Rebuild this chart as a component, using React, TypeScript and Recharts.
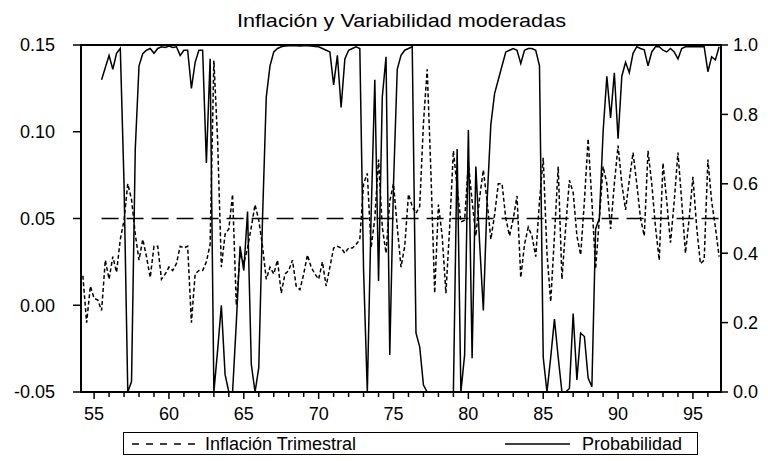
import { LineChart, Line, XAxis, YAxis, ReferenceArea, ReferenceLine } from "recharts";

const FONT = '"Liberation Sans", Arial, Helvetica, sans-serif';

// quarterly sample, first observation 1954Q2 (x axis in two-digit years)
const FIRST_QUARTER = 54.25;

const inflacion = [
  0.017, -0.01, 0.011, 0.004, 0.003, -0.003, 0.026, 0.015, 0.028, 0.019,
  0.038, 0.049, 0.07, 0.061, 0.041, 0.026, 0.038, 0.028, 0.016, 0.034,
  0.034, 0.015, 0.018, 0.022, 0.02, 0.024, 0.034, 0.033, 0.034, -0.01,
  0.018, 0.02, 0.02, 0.025, 0.035, 0.141, 0.095, 0.022, 0.041, 0.044,
  0.064, 0.0, 0.03, 0.024, 0.033, 0.045, 0.058, 0.049, 0.034, 0.015,
  0.022, 0.018, 0.026, 0.007, 0.018, 0.02, 0.026, 0.011, 0.009, 0.018,
  0.029, 0.022, 0.018, 0.015, 0.025, 0.011, 0.022, 0.033, 0.034, 0.033,
  0.03, 0.033, 0.033, 0.035, 0.038, 0.07, 0.076, 0.033, 0.05, 0.084,
  0.045, 0.03, 0.06, 0.07, 0.045, 0.022, 0.034, 0.064, 0.057, 0.053,
  0.057, 0.105, 0.136, 0.076, 0.007, 0.058, 0.04, 0.007, 0.045, 0.089,
  0.068, 0.048, 0.049, 0.082, 0.06, 0.04, 0.062, 0.078, 0.06, 0.038,
  0.052, 0.07, 0.07, 0.05, 0.04, 0.05, 0.063, 0.016, 0.035, 0.045,
  0.04, 0.028, 0.06, 0.085, 0.03, 0.002, 0.04, 0.08, 0.015, 0.045,
  0.072, 0.065, 0.04, 0.029, 0.06, 0.096, 0.06, 0.021, 0.05, 0.08,
  0.07, 0.044, 0.07, 0.092, 0.07, 0.055, 0.072, 0.088, 0.07, 0.05,
  0.04, 0.089, 0.07, 0.045, 0.026, 0.082, 0.06, 0.036, 0.06, 0.088,
  0.06, 0.03, 0.05, 0.074, 0.045, 0.024, 0.026, 0.084, 0.06, 0.045,
  0.028,
];

const probabilidad = [
  null, null, null, null, null, 0.9, 0.935, 0.97, 0.93, 0.976,
  0.99, 0.6, 0.0, 0.03, 0.7, 0.94, 0.975, 0.985, 0.99, 0.976,
  0.99, 0.995, 0.993, 0.997, 0.993, 0.995, 0.97, 0.985, 0.985, 0.875,
  0.95, 0.985, 0.985, 0.66, 0.96, 0.0, 0.12, 0.25, 0.05, 0.0,
  0.0, 0.2, 0.42, 0.35, 0.52, 0.08, 0.0, 0.07, 0.5, 0.85,
  0.94, 0.98, 0.99, 0.995, 0.997, 0.998, 0.998, 0.998, 0.997, 0.998,
  0.998, 0.997, 0.996, 0.995, 0.99, 0.985, 0.98, 0.885, 0.97, 0.82,
  0.96, 0.985, 0.99, 0.995, 0.99, 0.35, 0.0, 0.5, 0.9, 0.32,
  0.85, 0.966, 0.107, 0.6, 0.93, 0.97, 0.985, 0.99, 0.995, 0.17,
  0.13, 0.02, 0.0, 0.0, 0.0, 0.0, 0.0, 0.0, 0.0, 0.0,
  0.7, 0.0, 0.107, 0.755, 0.097, 0.65, 0.43, 0.235, 0.55, 0.77,
  0.86, 0.9, 0.94, 0.98, 0.985, 0.99, 0.985, 0.947, 0.985, 0.99,
  0.99, 0.985, 0.94, 0.1, 0.0, 0.1, 0.21, 0.1, 0.0, 0.0,
  0.01, 0.226, 0.035, 0.17, 0.16, 0.04, 0.015, 0.47, 0.5, 0.75,
  0.91, 0.79, 0.92, 0.73, 0.91, 0.95, 0.92, 0.976, 0.995, 0.99,
  0.986, 0.94, 0.98, 0.995, 0.995, 0.985, 0.98, 0.99, 0.98, 0.96,
  0.99, 0.995, 0.995, 0.995, 0.995, 0.995, 0.995, 0.923, 0.966, 0.957,
  0.995,
];

const yearTicks = [
  55, 56, 57, 58, 59, 60, 61, 62, 63, 64, 65, 66, 67, 68, 69, 70, 71, 72, 73, 74, 75,
  76, 77, 78, 79, 80, 81, 82, 83, 84, 85, 86, 87, 88, 89, 90, 91, 92, 93, 94, 95, 96,
];
const leftTicks = [-0.05, 0, 0.05, 0.1, 0.15];
const rightTicks = [0, 0.2, 0.4, 0.6, 0.8, 1];
const UMBRAL = 0.5;

const data = inflacion.map((v, i) => ({
  t: FIRST_QUARTER + i * 0.25,
  inflacion: v,
  probabilidad: probabilidad[i],
}));

const X_DOMAIN: [number, number] = [54.125, 96.875];

function YearTick({ x, y, payload }: any) {
  const v = payload.value as number;
  const major = v % 5 === 0;
  return (
    <g>
      <line x1={x} x2={x} y1={y} y2={y + (major ? 7 : 5)} stroke="#000" strokeWidth={1.5} />
      {major && (
        <text x={x} y={y + 28} textAnchor="middle" fontSize={18} fontFamily={FONT} fill="#000">
          {v}
        </text>
      )}
    </g>
  );
}

export default function App() {
  return (
    <div style={{ position: "absolute", left: 0, top: 0, width: 768, height: 461, background: "#fff" }}>
      <LineChart
        width={768}
        height={461}
        data={data}
        margin={{ top: 45, right: 0, bottom: 39, left: 0 }}
      >
        <XAxis
          dataKey="t"
          type="number"
          domain={X_DOMAIN}
          allowDataOverflow
          ticks={yearTicks}
          interval={0}
          tick={<YearTick />}
          tickLine={false}
          tickSize={0}
          tickMargin={0}
          height={30}
          axisLine={{ stroke: "#000", strokeWidth: 2 }}
        />
        <YAxis
          yAxisId="left"
          domain={[-0.05, 0.15]}
          allowDataOverflow
          ticks={leftTicks}
          interval={0}
          width={81}
          tickSize={8}
          tickMargin={18}
          tickFormatter={(v: number) => v.toFixed(2)}
          tick={{ fontSize: 18, fill: "#000", fontFamily: FONT }}
          tickLine={{ stroke: "#000", strokeWidth: 1.5 }}
          axisLine={{ stroke: "#000", strokeWidth: 2 }}
        />
        <YAxis
          yAxisId="right"
          orientation="right"
          domain={[0, 1]}
          allowDataOverflow
          ticks={rightTicks}
          interval={0}
          width={47}
          tickSize={7}
          tickMargin={5}
          tickFormatter={(v: number) => v.toFixed(1)}
          tick={{ fontSize: 18, fill: "#000", fontFamily: FONT, textAnchor: "start" }}
          tickLine={{ stroke: "#000", strokeWidth: 1.5 }}
          axisLine={{ stroke: "#000", strokeWidth: 2 }}
        />
        <ReferenceArea
          yAxisId="left"
          x1={X_DOMAIN[0]}
          x2={X_DOMAIN[1]}
          y1={-0.05}
          y2={0.15}
          fill="none"
          stroke="#000"
          strokeWidth={2}
        />
        <ReferenceLine
          yAxisId="right"
          segment={[
            { x: 55.5, y: UMBRAL },
            { x: 96.75, y: UMBRAL },
          ]}
          stroke="#000"
          strokeWidth={1.3}
          strokeDasharray="17 8"
        />
        <Line
          yAxisId="left"
          type="linear"
          dataKey="inflacion"
          stroke="#000"
          strokeWidth={1.5}
          strokeDasharray="4 2.5"
          dot={false}
          isAnimationActive={false}
        />
        <Line
          yAxisId="right"
          type="linear"
          dataKey="probabilidad"
          stroke="#000"
          strokeWidth={1.5}
          dot={false}
          connectNulls={false}
          isAnimationActive={false}
        />
      </LineChart>
      <svg
        width={768}
        height={461}
        style={{ position: "absolute", left: 0, top: 0, pointerEvents: "none" }}
      >
        <text
          x={237}
          y={27}
          textLength={329}
          lengthAdjust="spacingAndGlyphs"
          fontSize={19}
          fontFamily={FONT}
          fill="#000"
        >
          Inflación y Variabilidad moderadas
        </text>
        <rect x={123.5} y={432.5} width={574} height={22} fill="none" stroke="#000" strokeWidth={1} />
        <line x1={132} x2={196} y1={444} y2={444} stroke="#000" strokeWidth={1.5} strokeDasharray="7 7" />
        <text x={205} y={450} fontSize={18} fontFamily={FONT} fill="#000">
          Inflación Trimestral
        </text>
        <line x1={505} x2={570} y1={444} y2={444} stroke="#000" strokeWidth={1.5} />
        <text x={582} y={450} fontSize={18} fontFamily={FONT} fill="#000">
          Probabilidad
        </text>
      </svg>
    </div>
  );
}
